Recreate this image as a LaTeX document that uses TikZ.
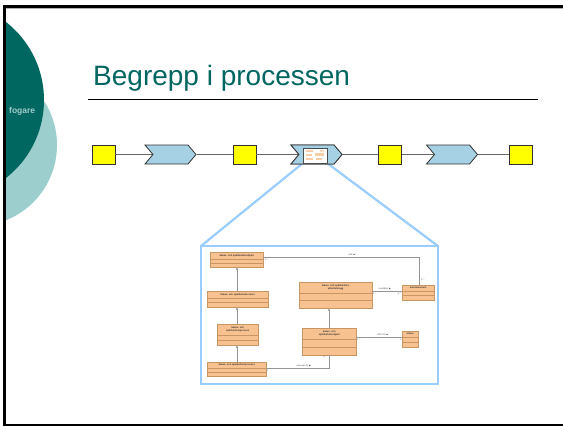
\documentclass[tikz,border=0pt]{standalone}
\usepackage{amssymb}
\usepackage{fontspec}
\setmainfont{Liberation Sans}
\usetikzlibrary{shapes.symbols,arrows.meta,calc}

\definecolor{teal1}{RGB}{0,102,96}
\definecolor{teal2}{RGB}{156,206,206}
\definecolor{fogtext}{RGB}{160,204,204}
\definecolor{procblue}{RGB}{166,208,227}
\definecolor{boxyel}{RGB}{255,255,0}
\definecolor{zoomblue}{RGB}{153,204,255}
\definecolor{umlfill}{RGB}{248,194,144}
\definecolor{umldraw}{RGB}{200,150,100}
\definecolor{umlline}{RGB}{150,150,150}

\tikzset{
  x=1pt, y=-1pt,
  artefact/.style={draw=black!80, line width=0.8pt, fill=boxyel,
    minimum width=23pt, minimum height=19pt, inner sep=0pt},
  activity/.style={signal, signal to=east, signal from=west,
    signal pointer angle=100, draw=black!80, line width=0.8pt, fill=procblue,
    minimum width=51pt, minimum height=19pt, inner sep=0pt},
  flow/.style={draw=black!60, line width=1.2pt},
  zoomline/.style={draw=zoomblue, line width=2.2pt},
  umlclass/.style={draw=umldraw, line width=0.4pt, fill=umlfill, inner sep=0pt,
    anchor=north west},
  umltext/.style={font=\fontsize{2.4}{2.8}\selectfont\bfseries, text=black!80,
    align=center, inner sep=0pt},
  umllabel/.style={font=\fontsize{2.2}{2.6}\selectfont, text=black!70, inner sep=0pt},
  assoc/.style={draw=umlline, line width=0.5pt},
  gen/.style={draw=umlline, line width=0.5pt, -{Triangle[open,length=2.5pt,width=2.5pt]}}
}

% a UML class box: #1 name, #2 x, #3 y, #4 width, #5 height, #6 name-compartment height, #7 text
\newcommand{\umlbox}[7]{%
  \node[umlclass, minimum width=#4pt, minimum height=#5pt] (#1) at (#2,#3) {};
  \draw[umldraw, line width=0.4pt] ($(#1.north west)+(0,#6)$) -- ($(#1.north east)+(0,#6)$);
  \draw[umldraw, line width=0.4pt] ($(#1.north west)+(0,{#6+(#5-#6)/2})$) -- ($(#1.north east)+(0,{#6+(#5-#6)/2})$);
  \node[umltext] at ($(#1.north)+(0,{#6/2})$) {#7};
}

\begin{document}
\begin{tikzpicture}
\useasboundingbox (0,0) rectangle (563,426);
\fill[white] (0,0) rectangle (563,426);

% decorative circles on the left edge
\begin{scope}
  \clip (6,8) rectangle (563,423);
  \fill[teal2] (-24,145) circle[radius=81];
  \fill[teal1] (-55,100) circle[radius=99];
\end{scope}
\node[font=\fontsize{8.5}{10}\selectfont\bfseries, text=fogtext, anchor=west, inner sep=0pt]
  (fog) at (9,111) {fogare};

% slide frame
\draw[black, line width=3pt] (4.5,6) -- (4.5,425);
\draw[black, line width=2.5pt] (3,6.5) -- (563,6.5);
\draw[black!30, line width=1pt] (6,8.5) -- (563,8.5);
\draw[black, line width=2pt] (3,424.5) -- (563,424.5);

% title and rule
\node[font=\fontsize{28}{32}\selectfont, text=teal1, anchor=base west, inner sep=0pt]
  (title) at (93,85) {Begrepp i processen};
\coordinate (ruleL) at (88,99);
\coordinate (ruleR) at (538,99);
\draw[black, line width=1pt] (ruleL) -- (ruleR);

% zoom box and its lines (behind the process row)
\coordinate (zbNW) at (201,246);
\coordinate (zbNE) at (438,246);
\coordinate (zbSE) at (438,384);
\coordinate (zbSW) at (201,384);
\coordinate (thSW) at (303,163);
\coordinate (thSE) at (327,163);
\draw[zoomline] (thSW) -- (zbNW);
\draw[zoomline] (thSE) -- (zbNE);
\draw[zoomline, fill=white] (zbNW) -- (zbNE) -- (zbSE) -- (zbSW) -- cycle;

% process row
\node[artefact] (a1) at (103.5,154.5) {};
\node[activity] (p1) at (170.5,154.5) {};
\node[artefact] (a2) at (244.5,154.5) {};
\node[activity] (p2) at (316.5,154.5) {};
\node[artefact] (a3) at (390,154.5) {};
\node[activity] (p3) at (452,154.5) {};
\node[artefact] (a4) at (521,154.5) {};
\draw[flow] (a1) -- (p1);
\draw[flow] (p1) -- (a2);
\draw[flow] (a2) -- (p2);
\draw[flow] (p2) -- (a3);
\draw[flow] (a3) -- (p3);
\draw[flow] (p3) -- (a4);
\node[activity] at (p2) {};

% thumbnail inside the middle activity
\node[draw=black!70, line width=0.9pt, fill=white, minimum width=24pt, minimum height=15pt,
  inner sep=0pt] (thumb) at (315,155.5) {};
\fill[umlfill!80] (306,150) rectangle (313,152);
\fill[umlfill!80] (306,154) rectangle (312,156);
\fill[umlfill!80] (306,158) rectangle (313,160);
\fill[umlfill!80] (315,153) rectangle (324,155.5);
\fill[umlfill!80] (316,157.5) rectangle (322,160);
\fill[umlfill!60] (320,150) rectangle (324,151.5);

% class model inside the zoom box
\umlbox{cA}{210}{252}{53}{15}{7}{Sakes- och spårbarhetsobjekt}
\umlbox{cB}{207}{291}{61}{16}{7}{Sakes- och spårbarhetsresurs}
\umlbox{cC}{217}{324}{41}{21}{11}{Sakes- och\\spårbarhetsprocess}
\umlbox{cD}{207}{362}{59}{14}{6}{Sakes- och spårbarhetsprocess}
\umlbox{cE}{299}{282}{73}{26}{11}{Sakes- och spårbarhets-\\aktivitetslogg}
\umlbox{cF}{302}{328}{54}{27}{11}{Sakes- och\\spårbarhetsobjekt}
\umlbox{cG}{402}{285}{32}{15}{6}{arbetsmoment}
\umlbox{cH}{402}{331}{16}{16}{6}{arbete}

% generalisations
\draw[gen] (cB.north -| 237,0) -- (cA.south -| 237,0);
\draw[gen] (cC.north -| 237,0) -- (cB.south -| 237,0);
\draw[gen] (cD.north -| 237,0) -- (cC.south -| 237,0);
\draw[gen] (cF.north -| 329,0) -- (cE.south -| 329,0);

% associations
\coordinate (bendAG) at (419,257);
\draw[assoc] (cA.east |- 0,257) -- (bendAG) -- (cG.north -| bendAG);
\node[umllabel, anchor=south] (lutf) at (352,255.5) {utför $\blacktriangleright$};
\node[umllabel, anchor=north west] at (265,259) {1..*};
\node[umllabel, anchor=north west] at (421,279) {0..*};

\draw[assoc] (cE.east |- 0,291) -- (cG.west |- 0,291);
\node[umllabel, anchor=south] (linn) at (385,289.5) {innehåller $\blacktriangleright$};
\node[umllabel, anchor=north west] at (373,292.5) {1..*};
\node[umllabel, anchor=north east] at (401,292.5) {1..*};

\draw[assoc] (cF.east |- 0,337) -- (cH.west |- 0,337);
\node[umllabel, anchor=south] (lutff) at (383,335.5) {utförs för $\blacktriangleright$};
\node[umllabel, anchor=north west] at (357,338.5) {1..*};
\node[umllabel, anchor=north east] at (401,338.5) {1};

\coordinate (bendDF) at (329,368);
\draw[assoc] (cD.east |- 0,368) -- (bendDF) -- (cF.south -| bendDF);
\node[umllabel, anchor=south] (lans) at (304,366.5) {ansvarar för $\blacktriangleright$};
\node[umllabel, anchor=north west] at (267,369.5) {1};
\node[umllabel, anchor=north east] at (327,356) {0..*};
\end{tikzpicture}
\end{document}
